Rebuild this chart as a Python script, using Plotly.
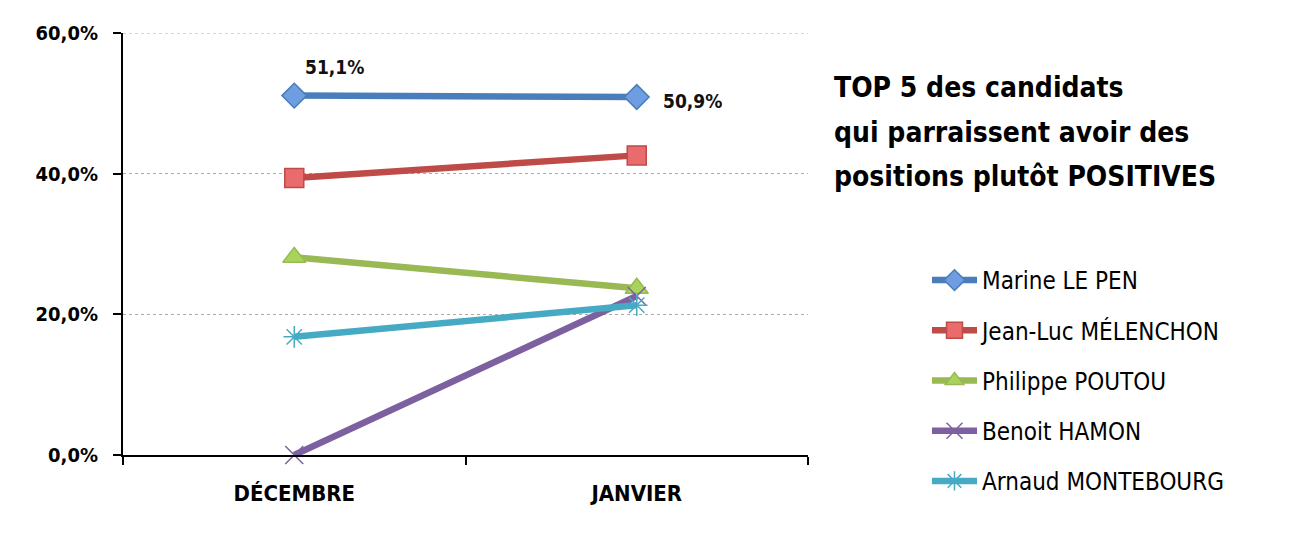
import plotly.graph_objects as go

months = ["DÉCEMBRE", "JANVIER"]
candidates = ["Marine LE PEN", "Jean-Luc MÉLENCHON", "Philippe POUTOU", "Benoit HAMON", "Arnaud MONTEBOURG"]
le_pen = [51.1, 50.9]
melenchon = [39.4, 42.6]
poutou = [28.1, 23.7]
hamon = [0.0, 22.6]
montebourg = [16.8, 21.3]
y_ticks = [0, 20, 40, 60]
y_tick_labels = ["0,0%", "20,0%", "40,0%", "60,0%"]
title_lines = ["TOP 5 des candidats", "qui parraissent avoir des", "positions plutôt POSITIVES"]

series = [le_pen, melenchon, poutou, hamon, montebourg]
line_colors = ["#4A7EBB", "#BE4B48", "#98B954", "#7D60A0", "#46AAC5"]
fill_colors = ["#6E9DE2", "#EA6B6B", "#A9D45B", "#7D60A0", "#46AAC5"]
symbols = ["diamond", "square", "triangle-up", "x-thin-open", "asterisk-open"]
sizes = [19, 19, 20, 18, 18]

FONT = "DejaVu Sans Condensed, DejaVu Sans, sans-serif"

# page body has an 8px margin
OX, OY = 8, 8
L, T, W, H = 123 - OX, 33 - OY, 685, 422

fig = go.Figure()
for i, (name, vals) in enumerate(zip(candidates, series)):
    fig.add_trace(go.Scatter(
        x=months, y=vals, name=name, mode="lines+markers",
        line=dict(color=line_colors[i], width=6.5),
        marker=dict(symbol=symbols[i], size=sizes[i], color=fill_colors[i],
                    line=dict(color=line_colors[i], width=1.5)),
        cliponaxis=False, legendgroup=name,
    ))

# top gridline (at the edge of the plot area)
fig.add_shape(type="line", xref="paper", yref="y", x0=0, x1=1,
              y0=y_ticks[-1], y1=y_ticks[-1],
              line=dict(color="#AAAAAA", width=1, dash="dot"), layer="below")

# data labels for Marine LE PEN
fmt = lambda v: f"{v:.1f}%".replace(".", ",")
fig.add_annotation(x=months[0], y=le_pen[0], text=f"<b>{fmt(le_pen[0])}</b>", showarrow=False,
                   xanchor="left", yanchor="middle", xshift=9, yshift=29,
                   font=dict(family=FONT, size=19, color="#111"))
fig.add_annotation(x=months[1], y=le_pen[1], text=f"<b>{fmt(le_pen[1])}</b>", showarrow=False,
                   xanchor="left", yanchor="middle", xshift=24, yshift=-4,
                   font=dict(family=FONT, size=19, color="#111"))

for k, line in enumerate(title_lines):
    fig.add_annotation(
        xref="paper", yref="paper", x=(832 - OX - L) / W, y=(455 - (88 + 44 * k)) / H,
        text=f"<b>{line}</b>", showarrow=False, xanchor="left", yanchor="middle",
        font=dict(family=FONT, size=28, color="#000"),
    )

fig.update_layout(
    width=1302, height=553,
    margin=dict(l=L, r=1302 - L - W, t=T, b=553 - T - H),
    paper_bgcolor="white", plot_bgcolor="white",
    font=dict(family=FONT, color="#000"),
    showlegend=True,
    legend=dict(
        x=(927 - OX - L) / W, y=(455 - 258) / H, xanchor="left", yanchor="top",
        font=dict(family=FONT, size=24, color="#000"),
        tracegroupgap=16, itemwidth=45,
    ),
    xaxis=dict(
        type="category", tickson="boundaries", ticks="outside", ticklen=8, tickwidth=2,
        tickcolor="#000", showline=True, linecolor="#000", linewidth=2,
        showgrid=False, range=[-0.5, 1.5], ticklabelstandoff=18,
        tickfont=dict(family=FONT, size=22, color="#000", weight="bold"),
    ),
    yaxis=dict(
        range=[0, 60], tickvals=y_ticks, ticktext=y_tick_labels,
        ticks="outside", ticklen=8, tickwidth=2, tickcolor="#000",
        showline=True, linecolor="#000", linewidth=2,
        showgrid=True, gridcolor="#AAAAAA", griddash="dot", gridwidth=1,
        zeroline=False, ticklabelstandoff=11,
        tickfont=dict(family=FONT, size=20, color="#000", weight="bold"),
    ),
)

fig.write_html("out.html")
